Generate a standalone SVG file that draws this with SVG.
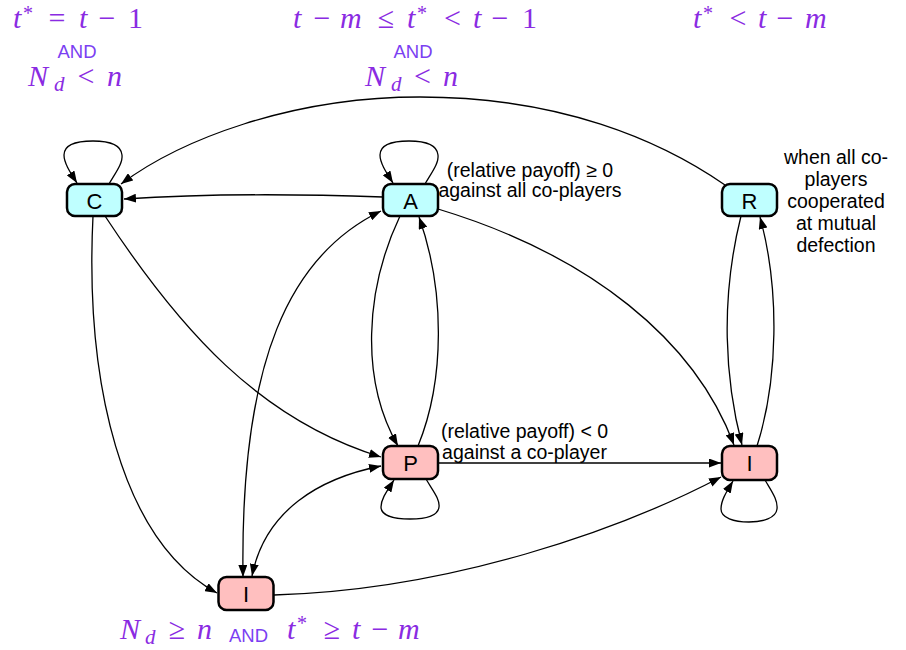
<svg xmlns="http://www.w3.org/2000/svg" width="906" height="650" viewBox="0 0 906 650">
<style>
.node rect{stroke:#000;stroke-width:2.5}
.cy{fill:#BFFFFF}
.pk{fill:#FFBFBF}
.nl{font-family:"Liberation Sans",Arial,sans-serif;font-size:22px;text-anchor:middle;fill:#000}
.e{fill:none;stroke:#000;stroke-width:1.3;marker-end:url(#ah)}
.both{marker-start:url(#ah)}
.lbl{font-family:"Liberation Sans",Arial,sans-serif;font-size:19.5px;text-anchor:middle;fill:#000}
.math{font-family:"Liberation Serif","Times New Roman",serif;font-size:30px;fill:#8A2BE2}
.i{font-style:italic}
.op{font-style:normal}
.sp{font-size:20px}
.sb{font-size:21px;font-style:italic}
.and{font-family:"Liberation Sans",Arial,sans-serif;font-size:18.5px;fill:#7B3FF2;text-anchor:middle}
</style>
<defs>
<marker id="ah" viewBox="0 0 12 9" refX="12" refY="4.5" markerWidth="12" markerHeight="9" markerUnits="userSpaceOnUse" orient="auto-start-reverse">
<path d="M0,0 L12,4.5 L0,9 z" fill="#000"/>
</marker>
</defs>

<g id="connectors">
<path id="e-C-C" class="e" d="M109,184 C116,172 123,163 122,155 C121,144 108,141 93,141 C78,141 64,144 64,155 C64,163 70,172 77,183"/>
<path id="e-A-A" class="e" d="M425,184 C432,172 439,163 438,155 C437,144 424,141 409,141 C394,141 380,144 380,155 C380,163 386,172 393,183"/>
<path id="e-R-C" class="e" d="M725,185 C660,140 560,97 420,97 C290,97 180,140 121,184"/>
<path id="e-A-C" class="e" d="M383,197 C300,194 200,194 124,199"/>
<path id="e-A-P" class="e" d="M400,216 C365,290 360,380 398,446"/>
<path id="e-P-A" class="e" d="M418,446 C445,380 445,290 419,217"/>
<path id="e-A-I" class="e" d="M438,209 C590,255 695,340 734,445"/>
<path id="e-C-P" class="e" d="M105,216 C180,330 260,420 381,457"/>
<path id="e-C-Ib" class="e" d="M93,216 C85,380 120,540 217,593"/>
<path id="e-A-Ib" class="e both" d="M381,211 C290,255 240,360 243,577"/>
<path id="e-P-Ib" class="e both" d="M381,466 C320,478 265,510 252,576"/>
<path id="e-Ib-I" class="e" d="M274,595 C450,590 620,530 721,477"/>
<path id="e-P-I" class="e" d="M438,463 L721,463"/>
<path id="e-P-P" class="e" d="M426,479 C433,491 440,499 439,507 C438,516 425,519 410,519 C395,519 381,516 381,507 C381,499 387,491 394,480"/>
<path id="e-I-I" class="e" d="M765,480 C772,492 778,500 777,509 C776,518 763,522 749,522 C734,522 721,518 721,509 C721,500 727,491 733,481"/>
<path id="e-R-I" class="e" d="M741,216 C720,300 725,380 742,445"/>
<path id="e-I-R" class="e" d="M757,446 C778,380 780,290 760,217"/>
</g>

<g id="node-C" class="node"><rect class="cy" x="67" y="184" width="55" height="32" rx="8"/><text class="nl" x="94.5" y="208.5">C</text></g>
<g id="node-A" class="node"><rect class="cy" x="383" y="184" width="55" height="32" rx="8"/><text class="nl" x="410.5" y="208.5">A</text></g>
<g id="node-R" class="node"><rect class="cy" x="722" y="184" width="55" height="32" rx="8"/><text class="nl" x="749.5" y="208.5">R</text></g>
<g id="node-P" class="node"><rect class="pk" x="383" y="446" width="55" height="33" rx="8"/><text class="nl" x="410.5" y="471">P</text></g>
<g id="node-I" class="node"><rect class="pk" x="722" y="446" width="55" height="34" rx="8"/><text class="nl" x="749.5" y="471">I</text></g>
<g id="node-Ib" class="node"><rect class="pk" x="218.5" y="577" width="55" height="33" rx="8"/><text class="nl" x="246" y="602">I</text></g>

<g id="labels">
<text class="lbl" x="530" y="177">(relative payoff) ≥ 0</text>
<text class="lbl" x="530" y="197">against all co-players</text>
<text class="lbl" x="524.5" y="438">(relative payoff) &lt; 0</text>
<text class="lbl" x="524.5" y="459">against a co-player</text>
<text class="lbl" x="836" y="164">when all co-</text>
<text class="lbl" x="836" y="186">players</text>
<text class="lbl" x="836" y="208">cooperated</text>
<text class="lbl" x="836" y="230">at mutual</text>
<text class="lbl" x="836" y="252">defection</text>
</g>

<g id="conditions">
<text class="math" y="28"><tspan class="i" x="13">t</tspan><tspan class="sp" x="23" y="20">*</tspan><tspan class="op" x="48.5" y="28">=</tspan><tspan class="i" x="79">t</tspan><tspan class="op" x="98.5">−</tspan><tspan x="128">1</tspan></text>
<text class="and" x="77" y="58">AND</text>
<text class="math" y="86"><tspan class="i" x="28">N</tspan><tspan class="sb" x="54" y="91">d</tspan><tspan class="op" x="77.5" y="86">&lt;</tspan><tspan class="i" x="107">n</tspan></text>

<text class="math" y="28"><tspan class="i" x="293">t</tspan><tspan class="op" x="313.5">−</tspan><tspan class="i" x="340">m</tspan><tspan class="op" x="377.7">≤</tspan><tspan class="i" x="407">t</tspan><tspan class="sp" x="417" y="20">*</tspan><tspan class="op" x="444" y="28">&lt;</tspan><tspan class="i" x="473">t</tspan><tspan class="op" x="491.5">−</tspan><tspan x="522">1</tspan></text>
<text class="and" x="413" y="58">AND</text>
<text class="math" y="86"><tspan class="i" x="365">N</tspan><tspan class="sb" x="391" y="91">d</tspan><tspan class="op" x="414" y="86">&lt;</tspan><tspan class="i" x="443">n</tspan></text>

<text class="math" y="28"><tspan class="i" x="693">t</tspan><tspan class="sp" x="703" y="20">*</tspan><tspan class="op" x="729.5" y="28">&lt;</tspan><tspan class="i" x="758">t</tspan><tspan class="op" x="776.5">−</tspan><tspan class="i" x="805">m</tspan></text>

<text class="math" y="639"><tspan class="i" x="120">N</tspan><tspan class="sb" x="145" y="644">d</tspan><tspan class="op" x="168.7" y="639">≥</tspan><tspan class="i" x="197">n</tspan></text>
<text class="and" x="248.5" y="642">AND</text>
<text class="math" y="639"><tspan class="i" x="287">t</tspan><tspan class="sp" x="297" y="630">*</tspan><tspan class="op" x="323.7" y="639">≥</tspan><tspan class="i" x="352">t</tspan><tspan class="op" x="371.5">−</tspan><tspan class="i" x="398">m</tspan></text>
</g>
</svg>
